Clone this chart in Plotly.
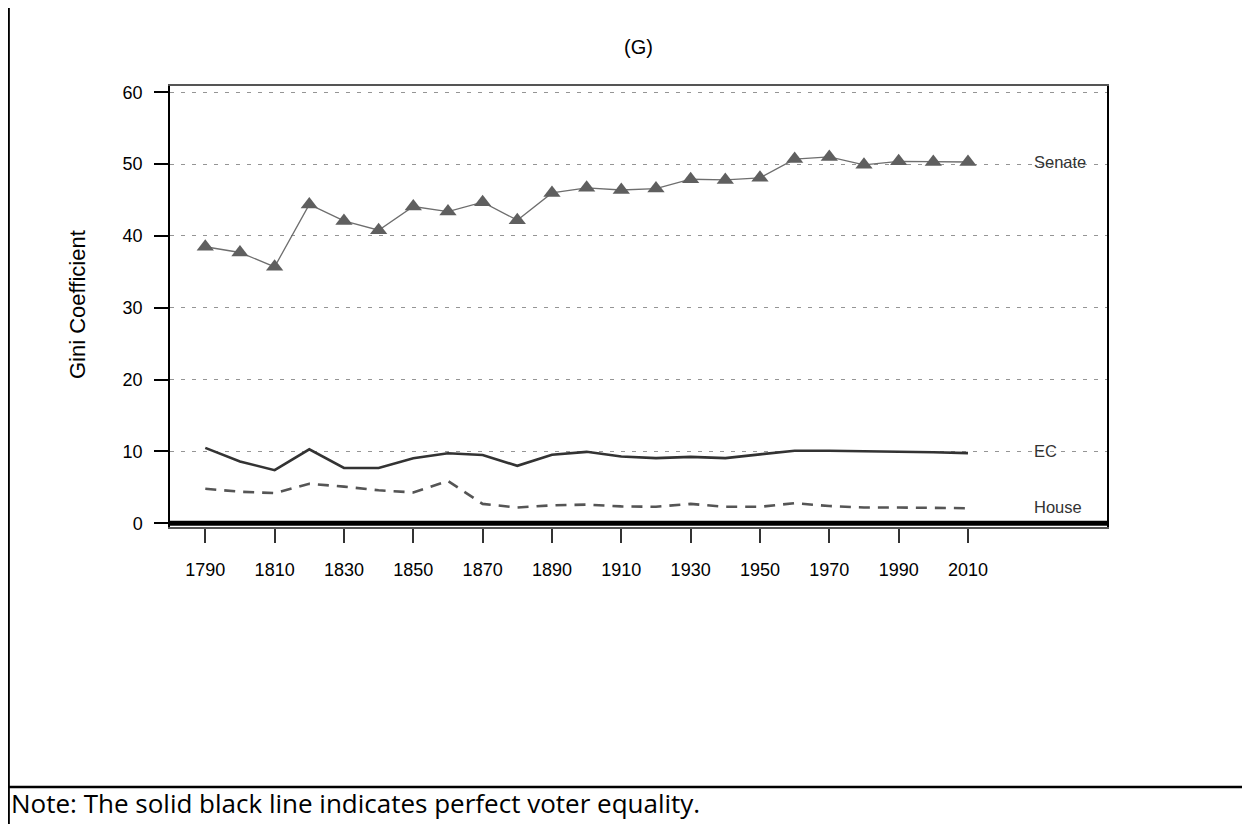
import plotly.graph_objects as go

years = list(range(1790, 2011, 10))
senate = [38.5, 37.7, 35.7, 44.4, 42.1, 40.8, 44.1, 43.4, 44.7, 42.2, 46.0, 46.7, 46.4,
          46.6, 47.9, 47.8, 48.1, 50.7, 51.0, 49.9, 50.4, 50.3, 50.3]
ec = [10.5, 8.6, 7.4, 10.3, 7.7, 7.7, 9.05, 9.75, 9.5, 8.0, 9.55, 9.95, 9.3,
      9.07, 9.25, 9.07, 9.6, 10.1, 10.1, 10.05, 9.95, 9.9, 9.77]
house = [4.8, 4.4, 4.2, 5.5, 5.1, 4.6, 4.3, 5.9, 2.7, 2.2, 2.5, 2.6, 2.35,
         2.3, 2.7, 2.3, 2.3, 2.8, 2.4, 2.2, 2.2, 2.1, 2.1]
xticks = list(range(1790, 2011, 20))
yticks = [0, 10, 20, 30, 40, 50, 60]
series_labels = ["Senate", "EC", "House"]
label_x = 2028.6
label_y = [50.3, 10.0, 2.3]

FONT = "Liberation Sans, Arial, Helvetica, sans-serif"

fig = go.Figure()
fig.add_trace(go.Scatter(x=years, y=senate, mode="lines+markers",
                         line=dict(color="#6e6e6e", width=1.3),
                         marker=dict(symbol="triangle-up", size=15, color="#5f5f5f"),
                         showlegend=False))
fig.add_trace(go.Scatter(x=years, y=ec, mode="lines",
                         line=dict(color="#333333", width=2.6),
                         showlegend=False))
fig.add_trace(go.Scatter(x=years, y=house, mode="lines",
                         line=dict(color="#555555", width=2.6, dash="11px,8px"),
                         showlegend=False))

# perfect equality line
fig.add_shape(type="line", xref="paper", yref="y", x0=0, x1=1, y0=0, y1=0,
              line=dict(color="black", width=5), layer="above")

OFF = 8  # page body margin
W, H = 1250 - OFF, 824 - OFF
L, T = 170 - OFF, 86 - OFF
pw, ph = 937, 441
R, B = W - L - pw, H - T - ph

def px(x):
    return (x - OFF - L) / pw

def py(y):
    return (T + ph - (y - OFF)) / ph

# outer frame lines
fig.add_shape(type="line", xref="paper", yref="paper", x0=px(8.6), x1=px(8.6), y0=py(5), y1=py(830),
              line=dict(color="black", width=2.5))
fig.add_shape(type="line", xref="paper", yref="paper", x0=px(7), x1=px(1260), y0=py(787), y1=py(787),
              line=dict(color="black", width=2.5))

annotations = [
    dict(text="(G)", x=px(638), y=py(47), xref="paper", yref="paper", showarrow=False,
         font=dict(family=FONT, size=20, color="black"), xanchor="center", yanchor="middle"),
    dict(text="Gini Coefficient", x=px(77), y=py(305), xref="paper", yref="paper", showarrow=False,
         textangle=-90, font=dict(family=FONT, size=22, color="black"), xanchor="center", yanchor="middle"),
    dict(text="Note: The solid black line indicates perfect voter equality.", x=px(9), y=py(803),
         xref="paper", yref="paper", showarrow=False, xanchor="left", yanchor="middle",
         font=dict(family="Open Sans, Noto Sans, sans-serif", size=26, color="black")),
]
for name, ly in zip(series_labels, label_y):
    annotations.append(dict(text=name, x=label_x, y=ly, xref="x", yref="y", showarrow=False,
                            xanchor="left", yanchor="middle",
                            font=dict(family=FONT, size=16.5, color="#333333")))

fig.update_layout(
    width=W, height=H,
    margin=dict(l=L, r=R, t=T, b=B),
    paper_bgcolor="white", plot_bgcolor="white",
    font=dict(family=FONT, size=18, color="black"),
    annotations=annotations,
    xaxis=dict(range=[1779.82, 2050.1], tickvals=xticks, ticktext=[str(v) for v in xticks],
               ticks="outside", ticklen=14, tickwidth=1.5, tickcolor="#333333",
               showgrid=False, zeroline=False, showline=True, linecolor="#555555", linewidth=2,
               mirror=True, ticklabelstandoff=11, tickfont=dict(size=18)),
    yaxis=dict(range=[-0.515, 60.88], tickvals=yticks, ticks="outside", ticklen=14,
               tickwidth=1.5, tickcolor="black",
               showgrid=True, gridcolor="#959595", gridwidth=1, griddash="4px,7px",
               zeroline=False, showline=True, linecolor="black", linewidth=1.5, mirror=True,
               ticklabelstandoff=8, tickfont=dict(size=18)),
)

fig.write_html("out.html")
